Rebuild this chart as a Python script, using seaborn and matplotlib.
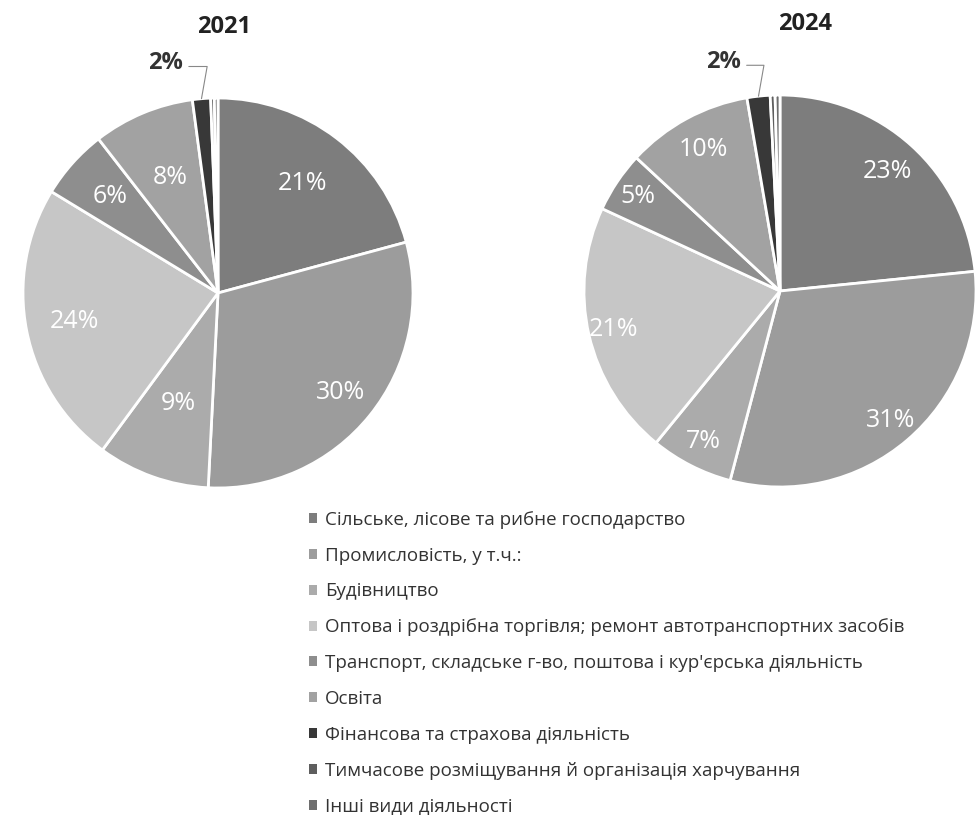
import numpy as np
import matplotlib.pyplot as plt
import seaborn as sns
from matplotlib.patches import Patch

sectors = [
    "Сільське, лісове та рибне господарство",
    "Промисловість, у т.ч.:",
    "Будівництво",
    "Оптова і роздрібна торгівля; ремонт автотранспортних засобів",
    "Транспорт, складське г-во, поштова і кур'єрська діяльність",
    "Освіта",
    "Фінансова та страхова діяльність",
    "Тимчасове розміщування й організація харчування",
    "Інші види діяльності",
]
share_2021 = [20.8, 30.0, 9.3, 23.6, 5.8, 8.4, 1.5, 0.3, 0.3]
share_2024 = [23.4, 30.7, 6.8, 21.0, 5.0, 10.4, 1.9, 0.4, 0.4]
years = ["2021", "2024"]

colors = ["#7d7d7d", "#9c9c9c", "#ababab", "#c6c6c6", "#8e8e8e",
          "#a2a2a2", "#383838", "#5e5e5e", "#6e6e6e"]

sns.set_theme(style="white")
plt.rcParams["font.family"] = ["Open Sans", "DejaVu Sans"]

fig = plt.figure(figsize=(9.76, 8.15), dpi=100)
W, H = 976, 815

# pie boxes in pixels: (center x, center y, radius)
boxes = [(218, 293, 195), (780, 291, 196)]
title_pos = [(224, 27), (805, 24)]
label_r = [[0.71, 0.81, 0.60, 0.75, 0.74, 0.64],
           [0.82, 0.87, 0.86, 0.87, 0.87, 0.82]]
fin_text = [(-0.27, 1.18), (-0.29, 1.17)]

for i, shares in enumerate([share_2021, share_2024]):
    cx, cy, r = boxes[i]
    ax = fig.add_axes([(cx - r) / W, (H - cy - r) / H, 2 * r / W, 2 * r / H])
    wedges, _ = ax.pie(shares, colors=colors, startangle=90, counterclock=False,
                       wedgeprops=dict(edgecolor="white", linewidth=2.0))
    ax.set_xlim(-1, 1)
    ax.set_ylim(-1, 1)
    ax.set_aspect("equal")
    ax.axis("off")

    # white percentage labels for the big slices
    for k in range(6):
        w = wedges[k]
        th = np.deg2rad((w.theta1 + w.theta2) / 2)
        rr = label_r[i][k]
        ax.text(rr * np.cos(th), rr * np.sin(th), f"{shares[k]:.0f}%",
                color="white", fontsize=18, ha="center", va="center")

    # finance slice labelled outside with a leader line
    w = wedges[6]
    th = np.deg2rad((w.theta1 + w.theta2) / 2)
    ax.annotate(f"{shares[6]:.0f}%", xy=(1.0 * np.cos(th), 1.0 * np.sin(th)),
                xytext=fin_text[i], fontsize=17, fontweight="bold", color="#333333",
                ha="center", va="center", annotation_clip=False,
                arrowprops=dict(arrowstyle="-", color="#888888", lw=0.8,
                                connectionstyle="angle,angleA=0,angleB=80",
                                relpos=(1.0, 0.35), shrinkA=2, shrinkB=0))

    tx, ty = title_pos[i]
    fig.text(tx / W, 1 - ty / H, years[i], fontsize=17, fontweight="bold",
             color="#222222", ha="center", va="center")

handles = [Patch(facecolor=c, edgecolor="none") for c in colors]
fig.legend(handles=handles, labels=sectors, loc="upper left",
           bbox_to_anchor=(292 / W, 1 - 494 / H), frameon=False, fontsize=13.5,
           handlelength=0.45, handleheight=0.45, handletextpad=0.4,
           labelspacing=0.95, labelcolor="#333333")

fig.savefig("out.png", dpi=100, facecolor="white")
